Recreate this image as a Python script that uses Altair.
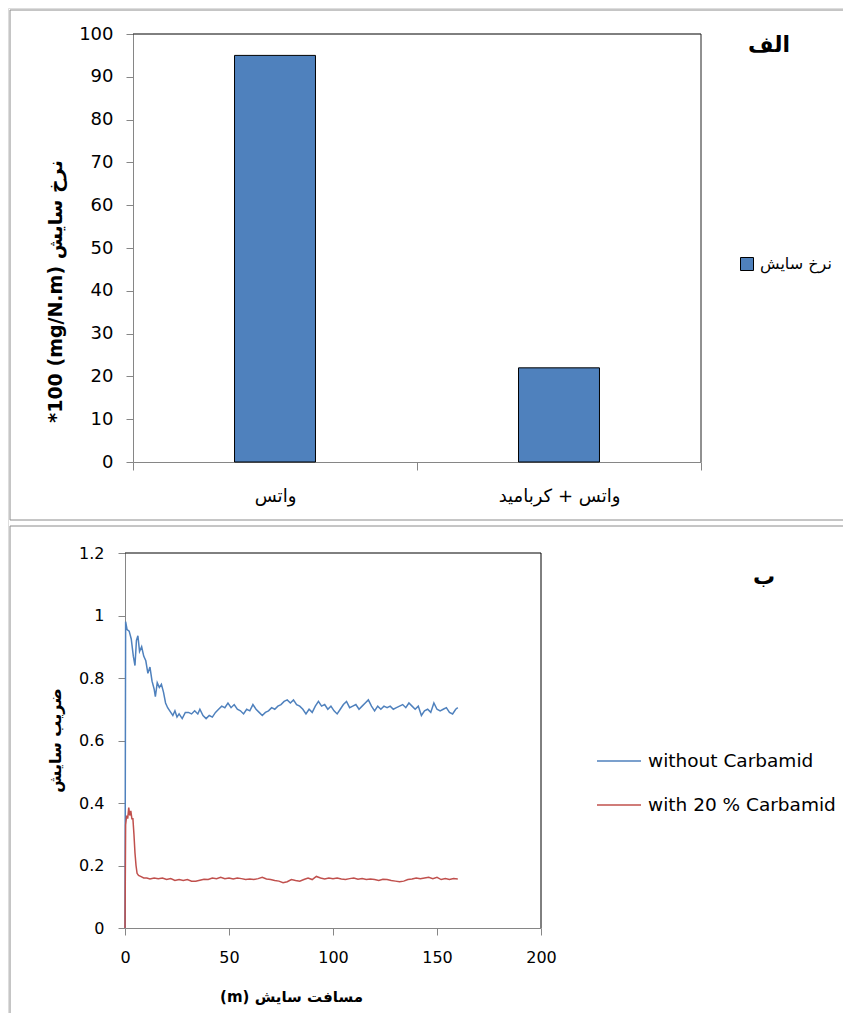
import altair as alt
import pandas as pd

FONT = "DejaVu Sans"
GRAY = "#868686"
FRAME = "#8c8c8c"
BLUE = "#4F81BD"
RED = "#C0504D"

# ---------------- data: panel الف (bar chart) ----------------
bar_categories = ["واتس", "واتس + کربامید"]
bar_values = [95, 22]
bar_series = ["نرخ سایش", "نرخ سایش"]
y_ticks_top = [0, 10, 20, 30, 40, 50, 60, 70, 80, 90, 100]

# ---------------- data: panel ب (line chart) ----------------
series_names = ["without Carbamid", "with 20 % Carbamid"]
blue_x = [0, 0.3, 1, 2, 3, 4, 4.8, 5.5, 6.2, 7, 8, 9, 10, 11, 12, 13, 14, 14.6,
          15.5, 16.5, 17.5, 18.5, 19.5, 20.5, 22, 23, 24, 25, 26, 27.5, 29, 30.5,
          32, 33.5, 35, 36, 37.5, 39, 40.5, 42, 43.5, 45, 46.5, 48, 49.5, 51, 52.5,
          54, 55.5, 57, 58.5, 60, 61.5, 63, 64.5, 66, 67.5, 69, 70.5, 72, 73.5, 75,
          76.5, 78, 79.5, 81, 82.5, 84, 85.5, 87, 88.5, 90, 91.5, 93, 94.5, 96, 97.5,
          99, 100.5, 102, 103.5, 105, 106.5, 108, 109.5, 111, 112.5, 114, 115.5, 117,
          118.5, 120, 121.5, 123, 124.5, 126, 127.5, 129, 130.5, 132, 133.5, 135,
          136.5, 138, 139.5, 141, 142.5, 144, 145.5, 147, 148.5, 150, 151.5, 153,
          154.5, 156, 157.5, 159, 160]
blue_y = [0, 0.98, 0.955, 0.95, 0.925, 0.87, 0.84, 0.92, 0.935, 0.885, 0.9, 0.87,
          0.855, 0.815, 0.835, 0.79, 0.765, 0.74, 0.785, 0.77, 0.78, 0.755, 0.72,
          0.705, 0.69, 0.68, 0.695, 0.675, 0.685, 0.67, 0.69, 0.69, 0.685, 0.695,
          0.685, 0.7, 0.68, 0.67, 0.68, 0.675, 0.69, 0.7, 0.71, 0.705, 0.72, 0.705,
          0.715, 0.7, 0.695, 0.685, 0.7, 0.695, 0.715, 0.7, 0.69, 0.68, 0.69, 0.695,
          0.705, 0.7, 0.71, 0.715, 0.725, 0.73, 0.72, 0.73, 0.715, 0.71, 0.7, 0.685,
          0.7, 0.69, 0.71, 0.725, 0.71, 0.715, 0.7, 0.71, 0.695, 0.685, 0.7, 0.715,
          0.725, 0.705, 0.71, 0.715, 0.7, 0.71, 0.72, 0.73, 0.71, 0.695, 0.71, 0.7,
          0.71, 0.705, 0.71, 0.7, 0.705, 0.71, 0.715, 0.705, 0.72, 0.71, 0.7, 0.71,
          0.68, 0.695, 0.7, 0.69, 0.72, 0.7, 0.695, 0.7, 0.705, 0.69, 0.685, 0.7,
          0.705]
red_x = [0, 0.3, 0.8, 1.3, 1.8, 2.3, 2.8, 3.3, 3.8, 4.3, 4.8, 5.3, 5.8, 6.5, 7.5,
         9, 10.5, 12, 14, 16, 18, 20, 22, 24, 26, 28, 30, 32, 34, 36, 38, 40, 42,
         44, 46, 48, 50, 52, 54, 56, 58, 60, 62, 64, 66, 68, 70, 72, 74, 76, 78, 80,
         82, 84, 86, 88, 90, 92, 94, 96, 98, 100, 102, 104, 106, 108, 110, 112, 114,
         116, 118, 120, 122, 124, 126, 128, 130, 132, 134, 136, 138, 140, 142, 144,
         146, 148, 150, 152, 154, 156, 158, 160]
red_y = [0, 0.33, 0.36, 0.35, 0.385, 0.36, 0.375, 0.35, 0.35, 0.3, 0.24, 0.2,
         0.175, 0.168, 0.165, 0.16, 0.16, 0.157, 0.16, 0.158, 0.16, 0.155, 0.158,
         0.152, 0.155, 0.152, 0.155, 0.15, 0.15, 0.153, 0.156, 0.155, 0.16, 0.158,
         0.162, 0.158, 0.16, 0.157, 0.16, 0.158, 0.155, 0.157, 0.155, 0.158, 0.162,
         0.157, 0.155, 0.152, 0.15, 0.145, 0.148, 0.155, 0.152, 0.15, 0.155, 0.16,
         0.155, 0.165, 0.16, 0.157, 0.16, 0.158, 0.16, 0.157, 0.155, 0.158, 0.16,
         0.156, 0.158, 0.155, 0.157, 0.155, 0.152, 0.156, 0.155, 0.152, 0.15, 0.148,
         0.15, 0.155, 0.157, 0.16, 0.158, 0.16, 0.162, 0.158, 0.162, 0.155, 0.158,
         0.155, 0.158, 0.157]
x_ticks_bottom = [0, 50, 100, 150, 200]
y_ticks_bottom = [0, 0.2, 0.4, 0.6, 0.8, 1, 1.2]

panel_labels = ["الف", "ب"]

# ---------------- tables ----------------
bar_df = pd.DataFrame({"category": bar_categories, "value": bar_values,
                       "series": bar_series})
line_df = pd.concat([
    pd.DataFrame({"d": blue_x, "v": blue_y, "s": series_names[0], "o": 0}),
    pd.DataFrame({"d": red_x, "v": red_y, "s": series_names[1], "o": 1}),
], ignore_index=True)
one = pd.DataFrame({"k": [0]})

# ---------------- geometry (pixels inside the chart) ----------------
W, H = 835, 1005
P1 = dict(x0=125, x1=693, y0=26, y1=454)     # plot area of panel الف
P2 = dict(x0=117, x1=533, y0=545, y1=920)    # plot area of panel ب


def hline(x1, x2, y, color):
    return alt.Chart(one).mark_rule(color=color, strokeWidth=1).encode(
        x=alt.value(x1), x2=alt.value(x2), y=alt.value(y))


def vline(x, y1, y2, color):
    return alt.Chart(one).mark_rule(color=color, strokeWidth=1).encode(
        x=alt.value(x), y=alt.value(y1), y2=alt.value(y2))


def label(txt, x, y):
    return alt.Chart(pd.DataFrame({"t": [txt]})).mark_text(
        fontSize=22, fontWeight="bold", font=FONT, color="#000",
        align="center", baseline="middle"
    ).encode(x=alt.value(x), y=alt.value(y), text="t:N")


common_axis = dict(grid=False, labelColor="#000", labelFont=FONT,
                   domainColor=GRAY, tickColor=GRAY, labelFlush=False,
                   titleColor="#000", titleFont=FONT, titleFontWeight="bold")

# ---------------- panel الف ----------------
bars = alt.Chart(bar_df).mark_bar(
    width={"band": 0.285}, stroke="#000", strokeWidth=1
).encode(
    x=alt.X("category:N", sort=bar_categories,
            scale=alt.Scale(paddingInner=0, paddingOuter=0,
                            range=[P1["x0"], P1["x1"]]),
            axis=alt.Axis(title=None, orient="bottom", offset=P1["y1"] - H,
                          labelAngle=0, tickBand="extent", tickSize=8,
                          labelPadding=17, labelFontSize=18, **common_axis)),
    y=alt.Y("value:Q", scale=alt.Scale(domain=[0, 100],
                                       range=[P1["y1"], P1["y0"]]),
            axis=alt.Axis(values=y_ticks_top, orient="left", offset=-P1["x0"],
                          tickSize=7, labelPadding=13, labelFontSize=18,
                          title="*100 (mg/N.m) نرخ سایش", titleFontSize=19,
                          titleX=-78, titleY=283, titleAngle=270,
                          titleBaseline="middle", titleAlign="center",
                          **common_axis)),
    color=alt.Color("series:N", scale=alt.Scale(range=[BLUE]),
                    legend=alt.Legend(title=None, orient="none", legendX=731,
                                      legendY=248, symbolType="square",
                                      symbolSize=169, symbolStrokeColor="#000",
                                      symbolStrokeWidth=1, labelFontSize=16,
                                      labelColor="#000", labelFont=FONT,
                                      labelOffset=5, padding=0, labelLimit=300)),
)

# ---------------- panel ب ----------------
lines = alt.Chart(line_df).mark_line(strokeWidth=1.5).encode(
    x=alt.X("d:Q", scale=alt.Scale(domain=[0, 200], range=[P2["x0"], P2["x1"]]),
            axis=alt.Axis(values=x_ticks_bottom, orient="bottom",
                          offset=P2["y1"] - H, tickSize=7, labelPadding=14,
                          labelFontSize=16, title="(m) مسافت سایش",
                          titleFontSize=15, titleX=283, titleY=68,
                          titleBaseline="middle", titleAlign="center",
                          **common_axis)),
    y=alt.Y("v:Q", scale=alt.Scale(domain=[0, 1.2], range=[P2["y1"], P2["y0"]]),
            axis=alt.Axis(values=y_ticks_bottom, format="~g", orient="left",
                          offset=-P2["x0"], tickSize=7, labelPadding=14,
                          labelFontSize=16, title="ضریب سایش", titleFontSize=16,
                          titleX=-70, titleY=732, titleAngle=270,
                          titleBaseline="middle", titleAlign="center",
                          **common_axis)),
    color=alt.Color("s:N", scale=alt.Scale(domain=series_names, range=[BLUE, RED]),
                    legend=alt.Legend(title=None, orient="none", legendX=588,
                                      legendY=730, symbolType="stroke",
                                      symbolSize=1936, symbolStrokeWidth=1.5,
                                      labelFontSize=18.5, labelColor="#000",
                                      labelFont=FONT, labelOffset=6,
                                      rowPadding=11, padding=0, labelLimit=400)),
    order="o:Q",
)

chart = alt.layer(
    # outer frames of the two panels
    hline(2, W, 2, FRAME), vline(2, 2, 512, FRAME), hline(2, W, 512, FRAME),
    hline(2, W, 518, FRAME), vline(2, 518, H, FRAME),
    # data
    bars, lines,
    # black top / right borders of the plot areas
    hline(P1["x0"], P1["x1"], P1["y0"], "#000"),
    vline(P1["x1"], P1["y0"], P1["y1"], "#222"),
    hline(P2["x0"], P2["x1"], P2["y0"], "#000"),
    vline(P2["x1"], P2["y0"], P2["y1"], "#000"),
    label(panel_labels[0], 761, 37),
    label(panel_labels[1], 756, 569),
).resolve_scale(
    x="independent", y="independent", color="independent"
).resolve_axis(
    x="independent", y="independent"
).resolve_legend(
    color="independent"
).properties(
    width=W, height=H, padding=0,
    autosize=alt.AutoSizeParams(type="none"),
    background="white",
).configure_view(stroke=None).configure(font=FONT)

chart.save("out.html", embed_options={"renderer": "svg", "actions": False})
